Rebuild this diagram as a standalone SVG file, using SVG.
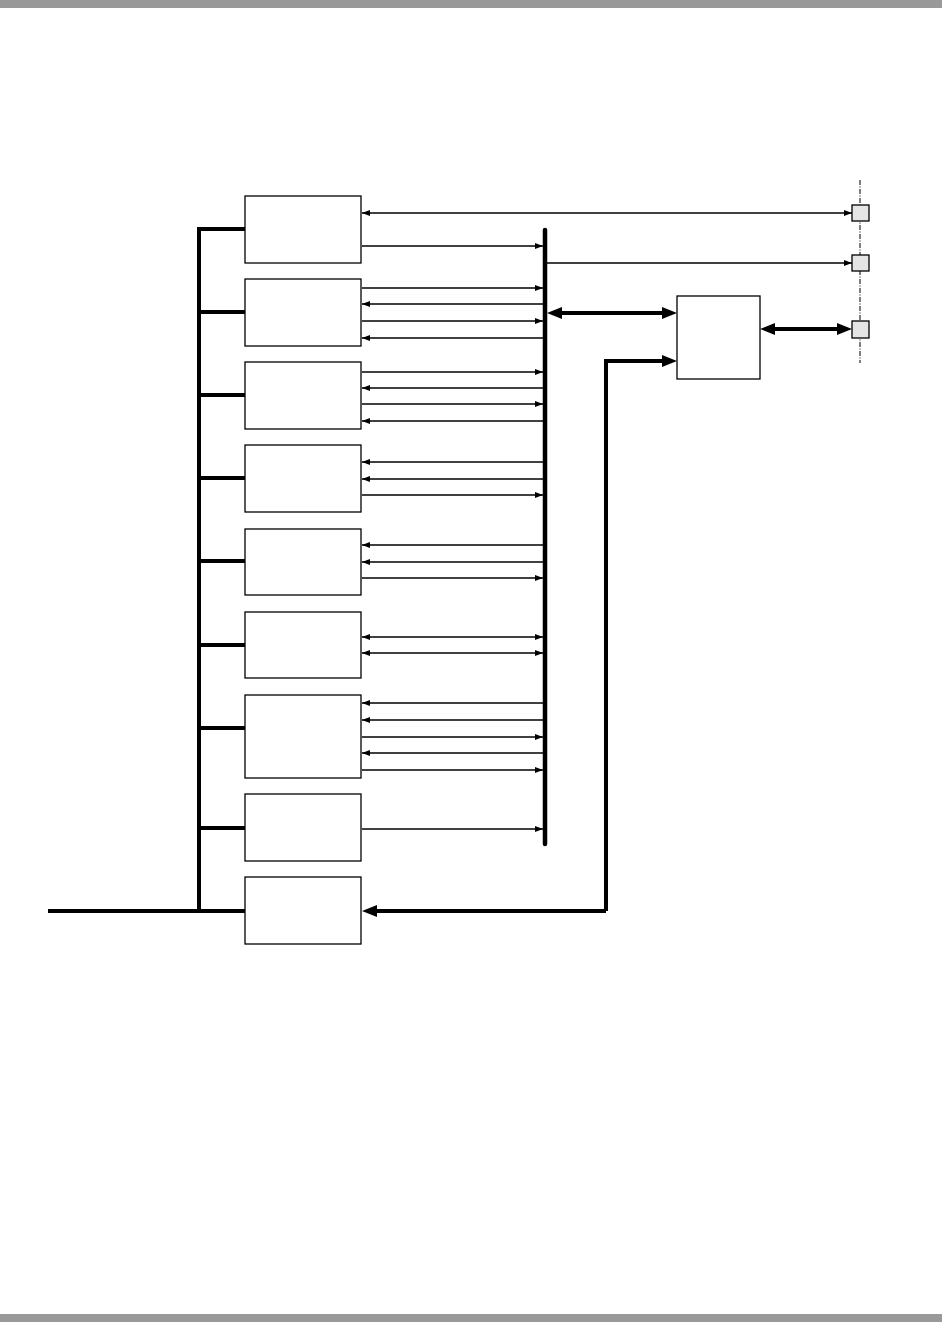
<svg xmlns="http://www.w3.org/2000/svg" width="942" height="1322" viewBox="0 0 942 1322">
<style>
.box{fill:#fff;stroke:#000;stroke-width:1.3}
.port{fill:#e5e5e5;stroke:#000;stroke-width:1.3}
.thin{stroke:#000;stroke-width:1.3;fill:none}
.thick{stroke:#000;stroke-width:4;fill:none}
.bus{stroke:#000;stroke-width:4.5;fill:none;stroke-linecap:round}
.ta{marker-end:url(#ah)}
.tb{marker-start:url(#ah);marker-end:url(#ah)}
.ka{marker-end:url(#AH)}
.kb{marker-start:url(#AH);marker-end:url(#AH)}
</style>
<defs>
<marker id="ah" markerUnits="userSpaceOnUse" markerWidth="8" markerHeight="6" refX="8" refY="3" orient="auto-start-reverse"><path d="M0,0 L8,3 L0,6 z" fill="#000"/></marker>
<marker id="AH" markerUnits="userSpaceOnUse" markerWidth="15" markerHeight="12" refX="10" refY="6" orient="auto-start-reverse"><path d="M0,0 L15,6 L0,12 z" fill="#000"/></marker>
</defs>
<rect x="0" y="0" width="942" height="1322" fill="#fff"/>
<rect x="0" y="0" width="942" height="8" fill="#999"/>
<rect x="0" y="1314" width="942" height="8" fill="#999"/>

<g id="connectors">
<path class="thick" d="M48,911 H245"/>
<path class="thick" d="M199,911 V229 H245"/>
<path class="thick" d="M199,312 H245"/>
<path class="thick" d="M199,395 H245"/>
<path class="thick" d="M199,478 H245"/>
<path class="thick" d="M199,561 H245"/>
<path class="thick" d="M199,645 H245"/>
<path class="thick" d="M199,728 H245"/>
<path class="thick" d="M199,828 H245"/>
<path class="bus" d="M545,230 V844"/>
<line class="thin tb" x1="362" y1="213" x2="852" y2="213"/>
<line class="thin ta" x1="362" y1="246" x2="543" y2="246"/>
<line class="thin ta" x1="547" y1="263" x2="852" y2="263"/>
<line class="thin ta" x1="362" y1="288" x2="543" y2="288"/>
<line class="thin ta" x1="543" y1="304" x2="362" y2="304"/>
<line class="thin ta" x1="362" y1="321" x2="543" y2="321"/>
<line class="thin ta" x1="543" y1="338" x2="362" y2="338"/>
<line class="thin ta" x1="362" y1="372" x2="543" y2="372"/>
<line class="thin ta" x1="543" y1="388" x2="362" y2="388"/>
<line class="thin ta" x1="362" y1="404" x2="543" y2="404"/>
<line class="thin ta" x1="543" y1="421" x2="362" y2="421"/>
<line class="thin ta" x1="543" y1="462" x2="362" y2="462"/>
<line class="thin ta" x1="543" y1="479" x2="362" y2="479"/>
<line class="thin ta" x1="362" y1="495" x2="543" y2="495"/>
<line class="thin ta" x1="543" y1="545" x2="362" y2="545"/>
<line class="thin ta" x1="543" y1="562" x2="362" y2="562"/>
<line class="thin ta" x1="362" y1="578" x2="543" y2="578"/>
<line class="thin tb" x1="362" y1="637" x2="543" y2="637"/>
<line class="thin tb" x1="362" y1="653" x2="543" y2="653"/>
<line class="thin ta" x1="543" y1="703" x2="362" y2="703"/>
<line class="thin ta" x1="543" y1="720" x2="362" y2="720"/>
<line class="thin ta" x1="362" y1="737" x2="543" y2="737"/>
<line class="thin ta" x1="543" y1="753" x2="362" y2="753"/>
<line class="thin ta" x1="362" y1="770" x2="543" y2="770"/>
<line class="thin ta" x1="362" y1="829" x2="543" y2="829"/>
<line class="thick kb" x1="552" y1="313" x2="672" y2="313"/>
<line class="thick kb" x1="765" y1="329" x2="847" y2="329"/>
<path class="thick ka" d="M606,911 V361 H672"/>
<path class="thick ka" d="M606,911 H367"/>
<line x1="860" y1="180" x2="860" y2="363" stroke="#000" stroke-width="1" stroke-dasharray="5,1.5,1,1.5"/>
</g>

<g id="n1"><rect class="box" x="245" y="196" width="116" height="67"/></g>
<g id="n2"><rect class="box" x="245" y="279" width="116" height="67"/></g>
<g id="n3"><rect class="box" x="245" y="362" width="116" height="67"/></g>
<g id="n4"><rect class="box" x="245" y="445" width="116" height="67"/></g>
<g id="n5"><rect class="box" x="245" y="529" width="116" height="66"/></g>
<g id="n6"><rect class="box" x="245" y="612" width="116" height="66"/></g>
<g id="n7"><rect class="box" x="245" y="695" width="116" height="83"/></g>
<g id="n8"><rect class="box" x="245" y="794" width="116" height="67"/></g>
<g id="n9"><rect class="box" x="245" y="877" width="116" height="67"/></g>
<g id="n10"><rect class="box" x="677" y="296" width="83" height="83"/></g>
<g id="p1"><rect class="port" x="852" y="205" width="17" height="16"/></g>
<g id="p2"><rect class="port" x="852" y="255" width="17" height="16"/></g>
<g id="p3"><rect class="port" x="852" y="321" width="17" height="17"/></g>
</svg>
